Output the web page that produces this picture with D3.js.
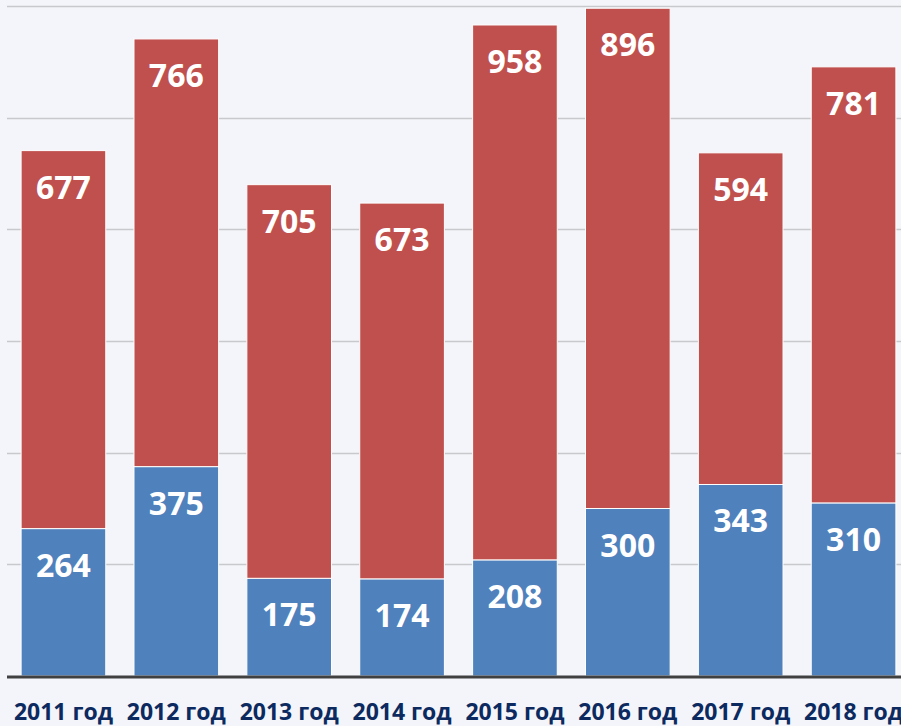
<!DOCTYPE html>
<html>
<head>
<meta charset="utf-8">
<script src="https://cdn.jsdelivr.net/npm/d3@7"></script>
<style>
	body { margin: 0; background: #f3f5fa; }
	svg { display: block; }
</style>
</head>
<body>
<div id="chart"></div>
<script>
var years = ["2011 год", "2012 год", "2013 год", "2014 год", "2015 год", "2016 год", "2017 год", "2018 год"];
var lower = [264, 375, 175, 174, 208, 300, 343, 310];
var upper = [677, 766, 705, 673, 958, 896, 594, 781];
var gridTicks = [200, 400, 600, 800, 1000, 1200];

var width = 901, height = 726;

var svg = d3.select("#chart").append("svg")
	.attr("width", width)
	.attr("height", height);

svg.append("rect")
	.attr("width", width)
	.attr("height", height)
	.attr("fill", "#f3f5fa");

var x = d3.scaleBand()
	.domain(years)
	.range([7, 910])
	.paddingInner(0.25)
	.paddingOuter(0.125);

var y = d3.scaleLinear()
	.domain([0, 1200])
	.range([676, 6]);

// gridlines
svg.append("g").selectAll("line")
	.data(gridTicks)
	.enter().append("line")
	.attr("x1", 7)
	.attr("x2", width)
	.attr("y1", function(d) { return Math.round(y(d)) + 0.5; })
	.attr("y2", function(d) { return Math.round(y(d)) + 0.5; })
	.attr("stroke", "#c8c9cc")
	.attr("stroke-width", 1.5);

var rows = years.map(function(yr, i) {
	return { year: yr, lo: lower[i], hi: upper[i] };
});

var bars = svg.append("g");

// blue part
bars.selectAll("rect.lo")
	.data(rows)
	.enter().append("rect")
	.attr("class", "lo")
	.attr("x", function(d) { return x(d.year); })
	.attr("width", x.bandwidth())
	.attr("y", function(d) { return y(d.lo); })
	.attr("height", function(d) { return y(0) - y(d.lo); })
	.attr("fill", "#4f81bd")
	.attr("stroke", "#ffffff")
	.attr("stroke-width", 1);

// red part
bars.selectAll("rect.hi")
	.data(rows)
	.enter().append("rect")
	.attr("class", "hi")
	.attr("x", function(d) { return x(d.year); })
	.attr("width", x.bandwidth())
	.attr("y", function(d) { return y(d.lo + d.hi); })
	.attr("height", function(d) { return y(d.lo) - y(d.lo + d.hi); })
	.attr("fill", "#c0504d")
	.attr("stroke", "#ffffff")
	.attr("stroke-width", 1);

var labelFont = "'Open Sans', 'DejaVu Sans', sans-serif";

bars.selectAll("text.lo")
	.data(rows)
	.enter().append("text")
	.attr("x", function(d) { return x(d.year) + x.bandwidth() / 2; })
	.attr("y", function(d) { return y(d.lo) + 48; })
	.attr("text-anchor", "middle")
	.attr("font-family", labelFont)
	.attr("font-weight", "bold")
	.attr("font-size", 32)
	.attr("fill", "#ffffff")
	.text(function(d) { return d.lo; });

bars.selectAll("text.hi")
	.data(rows)
	.enter().append("text")
	.attr("x", function(d) { return x(d.year) + x.bandwidth() / 2; })
	.attr("y", function(d) { return y(d.lo + d.hi) + 48; })
	.attr("text-anchor", "middle")
	.attr("font-family", labelFont)
	.attr("font-weight", "bold")
	.attr("font-size", 32)
	.attr("fill", "#ffffff")
	.text(function(d) { return d.hi; });

// baseline
svg.append("line")
	.attr("x1", 7)
	.attr("x2", width)
	.attr("y1", y(0) + 1)
	.attr("y2", y(0) + 1)
	.attr("stroke", "#404040")
	.attr("stroke-width", 3);

// category axis
var xAxis = svg.append("g")
	.attr("transform", "translate(0," + y(0) + ")")
	.call(d3.axisBottom(x).tickSize(0).tickPadding(28));

xAxis.select(".domain").remove();
xAxis.selectAll("text")
	.attr("font-family", labelFont)
	.attr("font-weight", "bold")
	.attr("font-size", 23)
	.attr("fill", "#0c2a5f");
</script>
</body>
</html>
